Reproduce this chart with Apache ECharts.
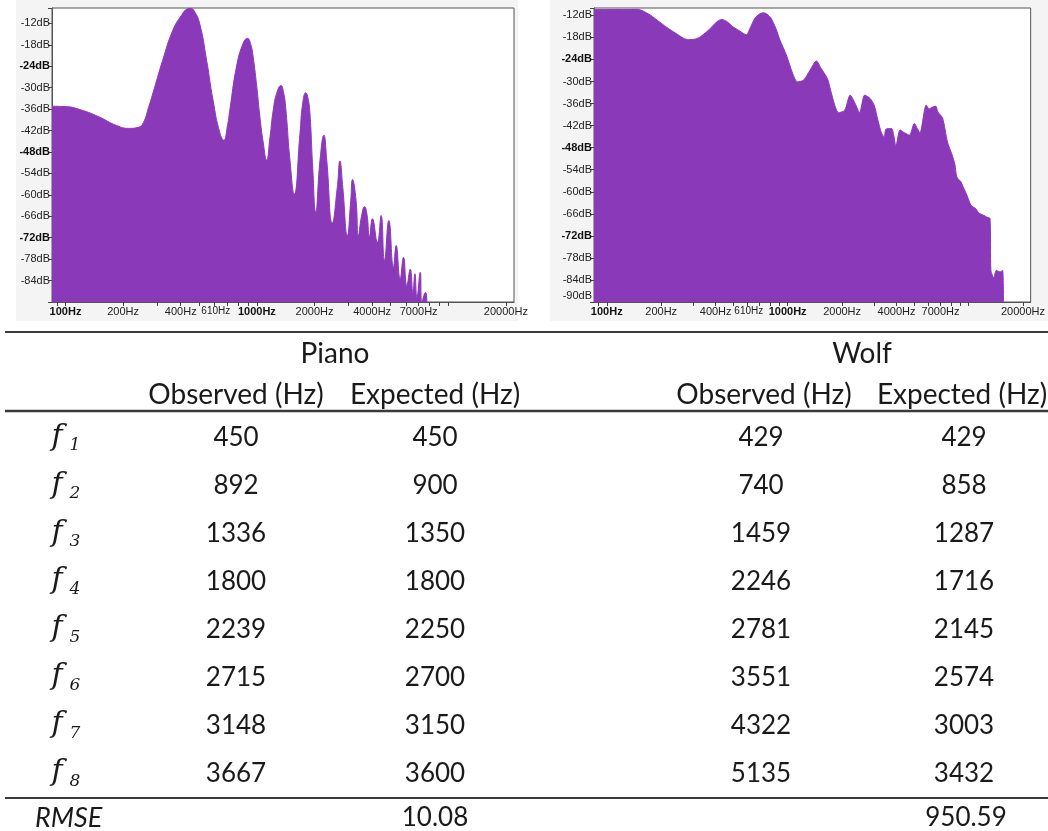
<!DOCTYPE html>
<html>
<head>
<meta charset="utf-8">
<script src="https://cdn.jsdelivr.net/npm/echarts@6/dist/echarts.min.js"></script>
<style>
  html, body { margin: 0; padding: 0; background: #ffffff; }
  #main { width: 1048px; height: 831px; }
</style>
</head>
<body>
<div id="main"></div>
<script>
// Spectrum of the piano note: [frequency (Hz), level (dB)]
const pianoSpectrum = [
  [85, -35.2], [100, -35.3], [120, -36.2], [150, -38.2], [185, -40.6], [215, -41.4],
  [240, -41.1], [255, -39.8], [270, -36], [290, -30.5], [322, -22.3], [364, -13.9],
  [404, -9.7], [432, -8.0], [450, -7.8], [470, -8.5], [502, -12], [546, -22.3],
  [590, -33.5], [640, -42.6], [672, -44.7], [700, -41], [722, -36.3], [782, -24.2],
  [847, -17.6], [893, -16.2], [930, -18], [956, -21.4], [1000, -30], [1037, -38.2],
  [1080, -45.5], [1124, -50.3], [1170, -44], [1217, -36.3], [1268, -31.6], [1336, -29.4],
  [1380, -31.5], [1418, -36.3], [1489, -50.3], [1568, -59.8], [1679, -42.9], [1735, -34.4],
  [1800, -31.4], [1850, -33], [1894, -37.3], [1957, -52.2], [2029, -64.8], [2137, -50.3],
  [2239, -43.3], [2317, -50.3], [2478, -67.9], [2632, -57.8], [2715, -50.5], [2809, -57.8],
  [2970, -71.4], [3093, -61.6], [3160, -55.7], [3297, -61.6], [3390, -71.4], [3520, -66],
  [3650, -63.3], [3760, -65.5], [3873, -71.7], [4015, -66.7], [4263, -73.3], [4458, -65.8],
  [4640, -78.4], [4891, -67.2], [5170, -80.3], [5341, -74.2], [5606, -83.5], [5834, -77.5],
  [6075, -85.4], [6326, -80.8], [6535, -87.3], [6692, -82.1], [6855, -88.7], [7135, -81.7],
  [7280, -90], [7604, -87.3], [7735, -90]
];

// Spectrum of the wolf tone: [frequency (Hz), level (dB)]
const wolfSpectrum = [
  [85, -10.4], [100, -10.4], [149, -10.4], [170, -11.6], [190, -13.3], [215, -15.3],
  [241, -16.9], [265, -18.2], [283, -18.6], [305, -18.5], [325, -18], [350, -16.8],
  [375, -15.5], [405, -13.8], [432, -13.1], [465, -13.8], [498, -15.1], [545, -16.3],
  [591, -17.3], [620, -15.5], [658, -12.8], [700, -11.6], [738, -11.3], [770, -11.7],
  [805, -12.6], [860, -15.5], [908, -18.8], [984, -22.8], [1066, -27.8], [1132, -30.1],
  [1227, -29.6], [1331, -26.9], [1441, -24.4], [1530, -26.4], [1659, -29.2], [1726, -32.3],
  [1834, -36.9], [1911, -38.5], [2068, -37.8], [2216, -33.7], [2362, -36], [2499, -38.5],
  [2665, -33.7], [2854, -34.6], [3006, -36.4], [3154, -40.5], [3300, -44], [3420, -45.1],
  [3490, -43], [3753, -42.8], [3858, -44.6], [3967, -47.6], [4183, -43.2], [4441, -44],
  [4718, -44.6], [5010, -41.4], [5214, -42.8], [5385, -44], [5834, -36.4], [6050, -37.5],
  [6246, -37.1], [6582, -36.7], [6775, -38.3], [7196, -40], [7643, -46.4], [8117, -50],
  [8400, -52.5], [8622, -56], [9075, -57.3], [9400, -59], [9721, -60.5], [10327, -63.7],
  [10970, -64.6], [11417, -65.8], [12126, -66.4], [12617, -66.9], [13143, -67.3],
  [13300, -81.4], [13794, -83.4], [14233, -81.4], [14937, -81.8], [15432, -81.4], [15610, -90]
];

// Frequency axis: labelled values and tick positions
const freqLabelValues = [100, 200, 400, 610, 1000, 2000, 4000, 7000, 20000];
const freqTickValues = [90, 100, 200, 300, 400, 500, 600, 700, 800, 900, 1000,
  2000, 3000, 4000, 5000, 6000, 7000, 8000, 9000, 10000, 20000];

// Harmonic table
const harmonicIndex = ['1', '2', '3', '4', '5', '6', '7', '8'];
const pianoObserved = [450, 892, 1336, 1800, 2239, 2715, 3148, 3667];
const pianoExpected = [450, 900, 1350, 1800, 2250, 2700, 3150, 3600];
const wolfObserved = [429, 740, 1459, 2246, 2781, 3551, 4322, 5135];
const wolfExpected = [429, 858, 1287, 1716, 2145, 2574, 3003, 3432];
const pianoRmse = 10.08;
const wolfRmse = 950.59;

const PURPLE = '#8a3ab9';
const AXIS_FONT = 'Liberation Sans, Arial, sans-serif';
const TABLE_FONT = 'Lato, "Open Sans", sans-serif';
const INK = '#1a1a1a';

function freqAxis(idx) {
  return {
    type: 'log', gridIndex: idx, logBase: 10, min: 85, max: 22050,
    axisLine: { show: true, lineStyle: { color: '#555', width: 1 } },
    axisTick: { show: true, length: 4, customValues: freqTickValues, lineStyle: { color: '#444' } },
    splitLine: { show: false },
    axisLabel: {
      customValues: freqLabelValues, margin: 4, color: '#222', fontSize: 11, fontFamily: AXIS_FONT,
      formatter: function (v) {
        const n = Math.round(v);
        const t = n + 'Hz';
        if (n === 100 || n === 1000) return '{b|' + t + '}';
        if (n === 610) return '{s|' + t + '}';
        return t;
      },
      rich: {
        b: { fontWeight: 'bold', fontSize: 11, fontFamily: AXIS_FONT, color: '#111' },
        s: { fontSize: 10, fontFamily: AXIS_FONT, color: '#222' }
      }
    }
  };
}

function dbAxis(idx, max, labelBottom) {
  return {
    type: 'value', gridIndex: idx, min: -90, max: max, interval: 6,
    axisLine: { show: true, lineStyle: { color: '#555', width: 1 } },
    axisTick: { show: true, length: 4, lineStyle: { color: '#444' } },
    splitLine: { show: false },
    axisLabel: {
      margin: 2, color: '#222', fontSize: 11, fontFamily: AXIS_FONT,
      formatter: function (v) {
        const n = Math.round(v);
        if (Math.abs(n - v) > 1e-6 || n % 6 !== 0) return '';
        if (n === -90) return labelBottom ? '{d|' + n + 'dB}' : '';
        const t = n + 'dB';
        if (n % 24 === 0) return '{b|' + t + '}';
        return t;
      },
      rich: {
        b: { fontWeight: 'bold', fontSize: 11, fontFamily: AXIS_FONT, color: '#111' },
        d: { fontSize: 11, fontFamily: AXIS_FONT, color: '#222', padding: [0, 0, 12, 0] }
      }
    }
  };
}

function spectrumSeries(data, idx, smooth) {
  return {
    type: 'line', xAxisIndex: idx, yAxisIndex: idx, data: data,
    showSymbol: false, smooth: smooth, silent: true,
    lineStyle: { color: PURPLE, width: 1 },
    itemStyle: { color: PURPLE },
    areaStyle: { color: PURPLE, opacity: 1, origin: 'start' }
  };
}

// Table drawn as graphic text
const graphics = [];
function txt(text, x, y, font, align) {
  graphics.push({
    type: 'text', x: x, y: y, silent: true,
    style: {
      text: text, font: font, fill: INK,
      align: align || 'center', textAlign: align || 'center',
      verticalAlign: 'middle', textVerticalAlign: 'middle'
    }
  });
}
function rule(y, w) {
  graphics.push({
    type: 'line', silent: true,
    shape: { x1: 5, y1: y, x2: 1048, y2: y },
    style: { stroke: '#3a3a3a', lineWidth: w }
  });
}
// light panels behind the two spectra
graphics.push({ type: 'rect', z: -10, silent: true, shape: { x: 16, y: 0, width: 502, height: 321 }, style: { fill: '#f4f4f4' } });
graphics.push({ type: 'rect', z: -10, silent: true, shape: { x: 550, y: 0, width: 498, height: 321 }, style: { fill: '#f4f4f4' } });

const headFont = '28px ' + TABLE_FONT;
const cellFont = '26px ' + TABLE_FONT;
const cols = [236, 435, 761, 964];
rule(332, 2);
txt('Piano', 335, 354, headFont);
txt('Wolf', 862, 354, headFont);
txt('Observed (Hz)', cols[0], 395, headFont);
txt('Expected (Hz)', cols[1], 395, headFont);
txt('Observed (Hz)', cols[2] + 3, 395, headFont);
txt('Expected (Hz)', cols[3] - 2, 395, headFont);
rule(411, 2.5);
const rowY0 = 438, rowStep = 47.9;
harmonicIndex.forEach(function (h, i) {
  const y = rowY0 + i * rowStep;
  txt('f', 57, y - 1, 'italic 30px "DejaVu Serif", "Liberation Serif", serif');
  txt(h, 75, y + 8, 'italic 17px "DejaVu Serif", "Liberation Serif", serif');
  txt(String(pianoObserved[i]), cols[0], y, cellFont);
  txt(String(pianoExpected[i]), cols[1], y, cellFont);
  txt(String(wolfObserved[i]), cols[2], y, cellFont);
  txt(String(wolfExpected[i]), cols[3], y, cellFont);
});
rule(798, 2);
txt('RMSE', 35, 818, 'italic 27px ' + TABLE_FONT, 'left');
txt(pianoRmse.toFixed(2), cols[1], 818, cellFont);
txt(wolfRmse.toFixed(2), cols[3] + 2, 818, cellFont);

const chart = echarts.init(document.getElementById('main'), null, { renderer: 'canvas' });
chart.setOption({
  animation: false,
  backgroundColor: '#ffffff',
  grid: [
    { left: 52, top: 8, width: 462, height: 294, show: true, backgroundColor: '#ffffff', borderColor: '#555', borderWidth: 1 },
    { left: 594, top: 8, width: 461, height: 294, show: true, backgroundColor: '#ffffff', borderColor: '#555', borderWidth: 1 }
  ],
  xAxis: [freqAxis(0), freqAxis(1)],
  yAxis: [dbAxis(0, -7.7, false), dbAxis(1, -10, true)],
  series: [spectrumSeries(pianoSpectrum, 0, 0.5), spectrumSeries(wolfSpectrum, 1, 0.25)],
  graphic: { elements: graphics }
});
</script>
</body>
</html>
